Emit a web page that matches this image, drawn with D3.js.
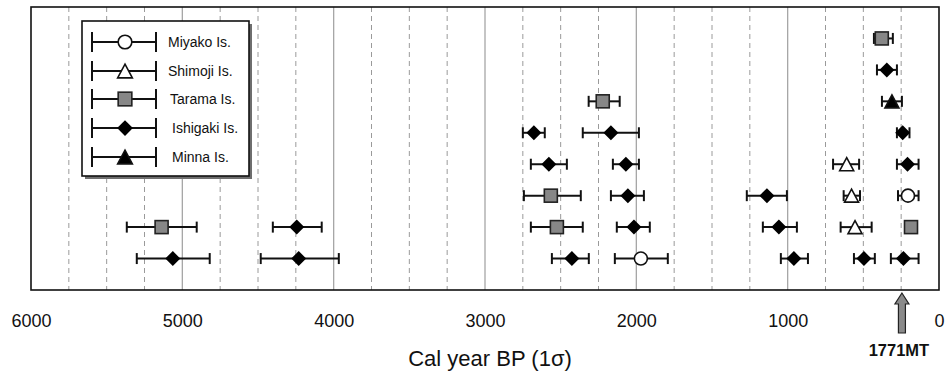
<!DOCTYPE html>
<html>
<head>
<meta charset="utf-8">
<script src="https://cdn.jsdelivr.net/npm/d3@7"></script>
<style>
  html, body { margin: 0; padding: 0; background: #fff; }
  svg { display: block; font-family: "Liberation Sans", Arial, sans-serif; }
</style>
</head>
<body>
<svg id="chart" width="949" height="375"></svg>
<script>
// ---- data: [row, calBP, youngEnd, oldEnd] ----
const seriesNames = ["Miyako Is.", "Shimoji Is.", "Tarama Is.", "Ishigaki Is.", "Minna Is."];
const miyako = [[6, 205, 135, 271], [8, 1970, 1792, 2142]];
const shimoji = [[5, 610, 528, 700], [6, 578, 522, 630], [7, 555, 445, 650]];
const tarama = [[1, 378, 305, 430], [3, 2222, 2110, 2315], [6, 2565, 2367, 2743],
                [7, 2525, 2354, 2697], [7, 5137, 4905, 5367], [7, 185, 172, 200]];
const ishigaki = [[2, 345, 278, 410], [4, 2677, 2605, 2750], [4, 2168, 1983, 2354],
                  [4, 240, 195, 278], [5, 2578, 2459, 2697], [5, 2069, 1983, 2155],
                  [5, 208, 135, 278], [6, 2056, 1950, 2168], [6, 1137, 1005, 1270],
                  [7, 2016, 1911, 2129], [7, 4244, 4079, 4402], [7, 1058, 939, 1164],
                  [8, 2426, 2314, 2558], [8, 5063, 4819, 5301], [8, 4231, 3966, 4482],
                  [8, 959, 866, 1045], [8, 496, 424, 562], [8, 235, 135, 318]];
const minna = [[3, 311, 245, 377]];
const rows = [1, 2, 3, 4, 5, 6, 7, 8];
const tickValues = [6000, 5000, 4000, 3000, 2000, 1000, 0];
const gridValues = d3.range(0, 6001, 250);
const markerYear = 245;
const markerLabel = "1771MT";
const axisTitle = "Cal year BP (1σ)";

(function () {
// ---- layout ----
const svg = d3.select("#chart");
const pLeft = 31, pRight = 939, pTop = 7, pBottom = 290;

const x = d3.scaleLinear().domain([6000, 0]).range([pLeft, pRight]);
const y = d3.scalePoint().domain(rows).range([pTop, pBottom]).padding(1);

// gridlines
svg.append("g").selectAll("line").data(gridValues.filter(v => v > 0 && v < 6000)).join("line")
  .attr("x1", d => x(d)).attr("x2", d => x(d))
  .attr("y1", pTop).attr("y2", pBottom)
  .attr("stroke", d => d % 1000 === 0 ? "#a6a6a6" : "#9a9a9a")
  .attr("stroke-width", d => d % 1000 === 0 ? 1.3 : 1)
  .attr("stroke-dasharray", d => d % 1000 === 0 ? null : "5,4");

// frame
svg.append("rect").attr("x", pLeft).attr("y", pTop)
  .attr("width", pRight - pLeft).attr("height", pBottom - pTop)
  .attr("fill", "none").attr("stroke", "#111").attr("stroke-width", 1.6);

// axis
const axis = svg.append("g").attr("transform", `translate(0,${pBottom})`)
  .call(d3.axisBottom(x).tickValues(tickValues).tickFormat(d3.format("d"))
    .tickSize(0).tickPadding(24));
axis.select(".domain").remove();
axis.selectAll("text").attr("font-size", 18).attr("fill", "#111")
  .attr("font-family", "'Liberation Sans', Arial, sans-serif");

svg.append("text").attr("x", 490).attr("y", 366).attr("text-anchor", "middle")
  .attr("font-size", 22).attr("fill", "#111").text(axisTitle);

// marker shapes
const CAP = 11;
function drawMarker(g, type, cx, cy, scale) {
  const s = scale || 1;
  if (type === 0) {
    g.append("circle").attr("cx", cx).attr("cy", cy).attr("r", 6.5 * s)
      .attr("fill", "#fff").attr("stroke", "#111").attr("stroke-width", 1.6);
  } else if (type === 1 || type === 4) {
    const w = 7 * s, h = 6.5 * s;
    g.append("path")
      .attr("d", `M${cx},${cy - h}L${cx + w},${cy + h}L${cx - w},${cy + h}Z`)
      .attr("fill", type === 1 ? "#fff" : "#000").attr("stroke", "#111").attr("stroke-width", 1.6)
      .attr("stroke-linejoin", "miter");
  } else if (type === 2) {
    const h = 6.5 * s;
    g.append("rect").attr("x", cx - h).attr("y", cy - h).attr("width", 2 * h).attr("height", 2 * h)
      .attr("fill", "#878787").attr("stroke", "#222").attr("stroke-width", 1.6);
  } else if (type === 3) {
    const w = 7.5 * s, h = 7.5 * s;
    g.append("path")
      .attr("d", `M${cx},${cy - h}L${cx + w},${cy}L${cx},${cy + h}L${cx - w},${cy}Z`)
      .attr("fill", "#000");
  }
}

function drawErrorBar(g, x1, x2, cy, cap) {
  g.append("line").attr("x1", x1).attr("x2", x2).attr("y1", cy).attr("y2", cy)
    .attr("stroke", "#111").attr("stroke-width", 2);
  [x1, x2].forEach(xx => g.append("line").attr("x1", xx).attr("x2", xx)
    .attr("y1", cy - cap / 2).attr("y2", cy + cap / 2)
    .attr("stroke", "#111").attr("stroke-width", 2));
}

const allSeries = [miyako, shimoji, tarama, ishigaki, minna];
const marks = svg.append("g");
allSeries.forEach((data, si) => {
  data.forEach(d => {
    const g = marks.append("g");
    drawErrorBar(g, x(d[3]), x(d[2]), y(d[0]), CAP);
    drawMarker(g, si, x(d[1]), y(d[0]));
  });
});

// legend
const lg = svg.append("g");
lg.append("rect").attr("x", 85).attr("y", 24).attr("width", 167).attr("height", 155).attr("fill", "#6e6e6e");
lg.append("rect").attr("x", 82).attr("y", 21).attr("width", 167).attr("height", 155)
  .attr("fill", "#fff").attr("stroke", "#111").attr("stroke-width", 1.6);
const legendY = [42, 71, 99, 128, 157];
const legendTextX = [168, 168, 170, 172, 172];
seriesNames.forEach((name, i) => {
  const g = lg.append("g");
  drawErrorBar(g, 92, 156, legendY[i], 20);
  drawMarker(g, i, 125, legendY[i], 1.05);
  g.append("text").attr("x", legendTextX[i]).attr("y", legendY[i] + 5)
    .attr("font-size", 14).attr("fill", "#111").text(name);
});

// arrow marker
const ax = x(markerYear);
svg.append("path")
  .attr("d", `M${ax},293L${ax + 7},304L${ax + 3.5},304L${ax + 3.5},333L${ax - 3.5},333L${ax - 3.5},304L${ax - 7},304Z`)
  .attr("fill", "#8a8a8a").attr("stroke", "#222").attr("stroke-width", 1.2);
svg.append("text").attr("x", ax - 3).attr("y", 356).attr("text-anchor", "middle")
  .attr("font-size", 16.5).attr("font-weight", "bold").attr("fill", "#111").text(markerLabel);
})();
</script>
</body>
</html>
